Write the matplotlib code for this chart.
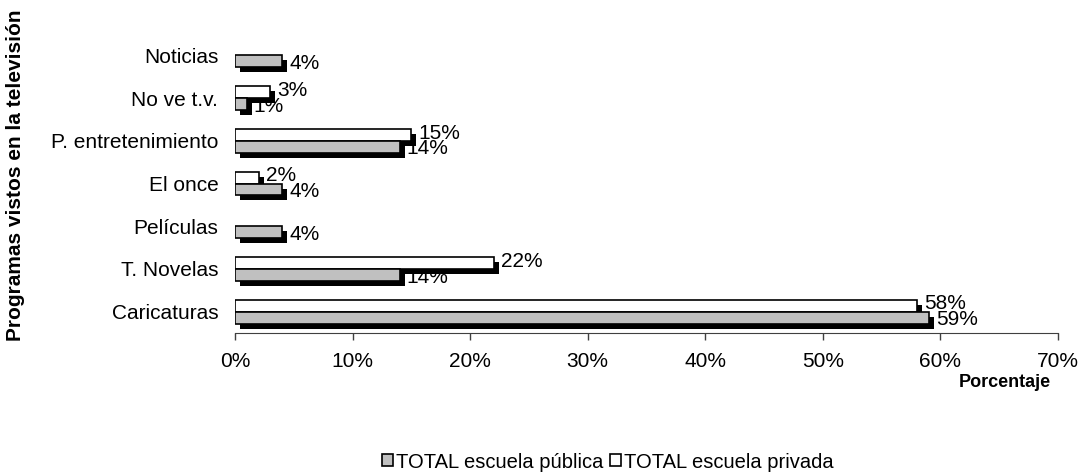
import matplotlib.pyplot as plt
import matplotlib.patheffects as pe
from matplotlib.patches import Patch
import numpy as np

plt.rcParams['font.family'] = ['Liberation Sans', 'DejaVu Sans']

# datos
categorias = ['Caricaturas', 'T. Novelas', 'Películas', 'El once',
              'P. entretenimiento', 'No ve t.v.', 'Noticias']
publica = [59, 14, 4, 4, 14, 1, 4]
privada = [58, 22, 0, 2, 15, 3, 0]
etiquetas_x = ['0%', '10%', '20%', '30%', '40%', '50%', '60%', '70%']

fig = plt.figure(figsize=(10.81, 4.73), dpi=100)
ax = fig.add_axes([0.2174, 0.296, 0.7613, 0.632])

y = np.arange(len(categorias))
h = 0.28
sombra = [pe.SimplePatchShadow(offset=(3.6, -3.6), shadow_rgbFace='black', alpha=1.0), pe.Normal()]

# primero la serie privada (arriba), luego la pública (abajo)
b2 = ax.barh(y + h / 2, privada, height=h, color='white', edgecolor='black', linewidth=1.2)
b1 = ax.barh(y - h / 2, publica, height=h, color='#c0c0c0', edgecolor='black', linewidth=1.2)
for b in list(b2) + list(b1):
    if b.get_width() > 0:
        b.set_path_effects(sombra)
    else:
        b.set_visible(False)

for i, v in enumerate(privada):
    if v > 0:
        ax.text(v + 0.6, i + h / 2 + 0.04, f'{v}%', va='center', ha='left', fontsize=15)
for i, v in enumerate(publica):
    if v > 0:
        ax.text(v + 0.6, i - h / 2 - 0.05, f'{v}%', va='center', ha='left', fontsize=15)

ax.set_xlim(0, 70)
ax.set_ylim(-0.5, len(categorias) - 0.5)
ax.set_xticks(range(0, 71, 10))
ax.set_xticklabels(etiquetas_x, fontsize=15)
ax.set_yticks(y)
ax.set_yticklabels(categorias, fontsize=15)
ax.tick_params(axis='y', length=0, pad=12)
ax.tick_params(axis='x', length=5, width=1, color='#404040', pad=9)
for s in ['top', 'right', 'left']:
    ax.spines[s].set_visible(False)
ax.spines['bottom'].set_color('#404040')

fig.text(1005 / 1081, 1 - 382 / 473, 'Porcentaje', ha='center', va='center',
         fontsize=13, fontweight='bold')
fig.text(16 / 1081, 1 - 175 / 473, 'Programas vistos en la televisión', rotation=90,
         ha='center', va='center', fontsize=15, fontweight='bold')

handles = [Patch(facecolor='#c0c0c0', edgecolor='black', linewidth=1.2),
           Patch(facecolor='white', edgecolor='black', linewidth=1.2)]
fig.legend(handles, ['TOTAL escuela pública', 'TOTAL escuela privada'], loc='center',
           bbox_to_anchor=(608 / 1081, 1 - 462 / 473), ncol=2, frameon=False,
           fontsize=14.5, handlelength=0.55, handleheight=0.55, handletextpad=0.15,
           columnspacing=0.35)

plt.savefig('out.png', dpi=100)
